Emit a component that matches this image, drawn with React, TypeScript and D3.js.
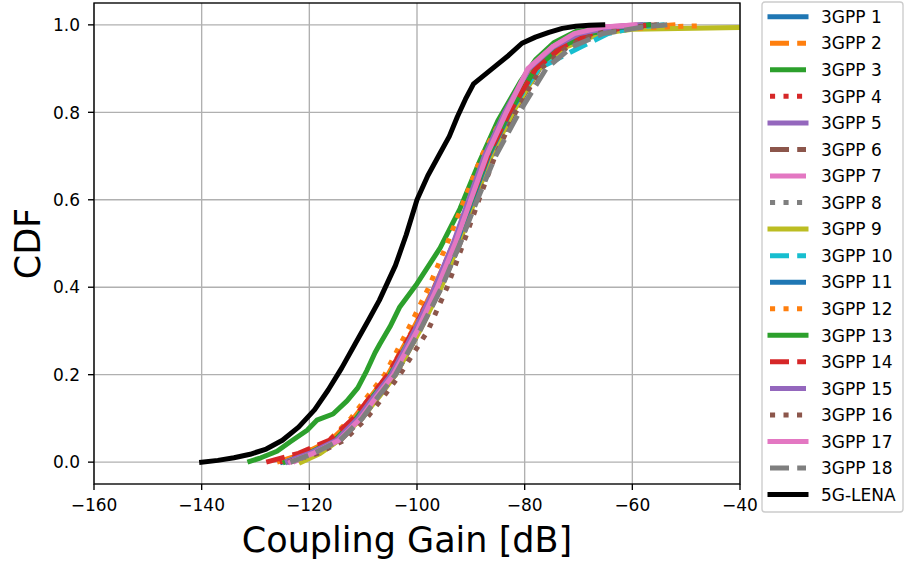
import React from "react";
import * as d3 from "d3";

// Shared CDF levels used by most series
const cdfLevels = [0, 0.02, 0.05, 0.1, 0.15, 0.2, 0.3, 0.4, 0.5, 0.6, 0.7, 0.8, 0.9, 0.95, 0.98, 0.995, 1.0];

const x1 = [-125, -120.5, -115.5, -111.2, -108, -104.8, -100.3, -96.2, -92.8, -89.7, -86.6, -82.6, -77.8, -73.5, -68, -62, -57];
const x2 = [-126, -121, -116, -111.8, -108.6, -105.4, -100.9, -96.8, -93.2, -90, -86.9, -82.8, -77.5, -72.5, -66.5, -58, -52];
const p3 = [0, 0.01, 0.025, 0.046, 0.073, 0.096, 0.11, 0.14, 0.17, 0.21, 0.25, 0.27, 0.31, 0.355, 0.408, 0.45, 0.49, 0.58, 0.69, 0.78, 0.87, 0.92, 0.96, 0.985, 0.995, 1.0];
const x3 = [-131.5, -129, -126, -123.6, -120.4, -118.6, -115.6, -113, -111, -109.3, -107.8, -106.9, -105, -103.2, -100, -97.8, -95.7, -92, -88.3, -85, -80.8, -78, -74.5, -70.5, -64, -58];
const x4 = [-125.5, -120.5, -115.2, -111, -107.8, -104.6, -100, -96, -92.6, -89.6, -86.6, -82.5, -77.5, -72.6, -67, -61, -56];
const x5 = [-124, -119.8, -114.8, -110.8, -107.8, -104.6, -100.3, -96.6, -93.2, -90.3, -87.4, -83.6, -79, -74.8, -70, -64, -58];
const x6 = [-123.5, -119, -114.2, -110.2, -107.2, -104, -99.5, -95.5, -92, -89, -86, -82, -77.2, -72.5, -67, -60, -55];
const x7 = [-123, -119.5, -114.6, -110.6, -107.6, -104.5, -100.2, -96.4, -93, -90.1, -87.2, -83.5, -79.3, -74.7, -70.5, -65, -59];
const x8 = [-124, -119.6, -114.6, -110.6, -107.6, -104.4, -99.8, -95.8, -92.4, -89.4, -86.4, -82.3, -77.6, -72.8, -67.2, -60, -55];
const p9 = [0, 0.02, 0.05, 0.1, 0.15, 0.2, 0.3, 0.4, 0.5, 0.6, 0.7, 0.8, 0.9, 0.95, 0.98, 0.99, 0.994];
const x9 = [-121.5, -118, -114.5, -110.3, -107, -104, -99.5, -95.5, -92.2, -89.2, -86.2, -82.2, -77.3, -72.2, -66, -60, -40];
const x10 = [-124.5, -120, -115.2, -111.3, -108.2, -105, -100.4, -96.4, -93, -90, -87, -82.8, -77.4, -69.5, -64.5, -59, -54];
const x11 = [-124, -119.8, -115, -111, -107.9, -104.7, -100.2, -96.2, -92.7, -89.7, -86.7, -82.7, -78, -73.4, -68, -61.5, -56.5];
const p12 = [0, 0.02, 0.05, 0.1, 0.15, 0.2, 0.3, 0.4, 0.5, 0.6, 0.7, 0.8, 0.9, 0.95, 0.98, 0.99, 0.995, 0.998];
const x12 = [-125, -121, -116.3, -112.3, -109.2, -106, -101.8, -97.8, -94.4, -91.2, -88, -83.6, -78.4, -73.4, -67.5, -62, -55, -47];
const x13 = [-124.5, -120.2, -115.3, -111.3, -108.2, -105, -100.5, -96.5, -93, -89.9, -86.9, -82.9, -78, -73.3, -68, -62, -57];
const x14 = [-128, -122, -116.3, -111.8, -108.6, -105.4, -100.8, -96.7, -93.1, -90, -86.9, -82.8, -77.9, -73, -67.5, -61, -56];
const x15 = [-124.5, -120, -115, -111, -108, -104.8, -100.5, -96.7, -93.3, -90.4, -87.5, -83.7, -79.2, -74.6, -69.8, -63.5, -58];
const x16 = [-124, -118.5, -113.5, -109.4, -106.2, -103.2, -98, -94.4, -91.4, -88.5, -85.5, -81.7, -77, -72, -66.8, -60, -55];
const x17 = [-123.5, -119.3, -114.5, -110.5, -107.5, -104.4, -100, -96.2, -92.9, -90, -87.1, -83.4, -79.4, -74.8, -70.8, -65.5, -59.5];
const x18 = [-123.5, -119.2, -114.3, -110.2, -107.2, -104, -99.5, -95.4, -92, -88.8, -85.4, -81, -76, -71.2, -65.5, -58, -53.5];
const pLena = [0, 0.004, 0.01, 0.018, 0.03, 0.05, 0.08, 0.12, 0.165, 0.215, 0.27, 0.325, 0.37, 0.41, 0.45, 0.52, 0.6, 0.655, 0.7, 0.745, 0.79, 0.83, 0.865, 0.885, 0.905, 0.93, 0.958, 0.972, 0.983, 0.992, 0.997, 0.999, 1.0];
const xLena = [-140, -137, -134, -131, -128, -125, -122, -119, -116.5, -114, -111.5, -109, -107, -105.5, -104, -102, -100, -98, -96, -94, -92.5, -91, -89.5, -87.5, -85.5, -83, -80.5, -78, -75.5, -73, -70.5, -68, -65.5];

const seriesNames = ["3GPP 1", "3GPP 2", "3GPP 3", "3GPP 4", "3GPP 5", "3GPP 6", "3GPP 7", "3GPP 8", "3GPP 9", "3GPP 10", "3GPP 11", "3GPP 12", "3GPP 13", "3GPP 14", "3GPP 15", "3GPP 16", "3GPP 17", "3GPP 18", "5G-LENA"];
const seriesX = [x1, x2, x3, x4, x5, x6, x7, x8, x9, x10, x11, x12, x13, x14, x15, x16, x17, x18, xLena];
const seriesP = [cdfLevels, cdfLevels, p3, cdfLevels, cdfLevels, cdfLevels, cdfLevels, cdfLevels, p9, cdfLevels, cdfLevels, p12, cdfLevels, cdfLevels, cdfLevels, cdfLevels, cdfLevels, cdfLevels, pLena];
const seriesColors = ["#1f77b4", "#ff7f0e", "#2ca02c", "#d62728", "#9467bd", "#8c564b", "#e377c2", "#7f7f7f", "#bcbd22", "#17becf", "#1f77b4", "#ff7f0e", "#2ca02c", "#d62728", "#9467bd", "#8c564b", "#e377c2", "#7f7f7f", "#000000"];
// 0 solid (projecting), 1 dashed, 2 solid (butt), 3 dotted
const seriesStyle = [0, 1, 2, 3, 0, 1, 2, 3, 0, 1, 2, 3, 0, 1, 2, 3, 0, 1, 0];

const xTicks = [-160, -140, -120, -100, -80, -60, -40];
const yTicks = [0.0, 0.2, 0.4, 0.6, 0.8, 1.0];

const W = 904, H = 561;
const AX = { left: 94, right: 740, top: 3, bottom: 484 };
const FONT = "'DejaVu Sans', sans-serif";
const LW = 5;

function dashFor(style: number) {
  if (style === 1) return "19 8.2";
  if (style === 3) return "5.1 8.4";
  return undefined;
}

export default function App() {
  const x = d3.scaleLinear().domain([-160, -40]).range([AX.left, AX.right]);
  const y = d3.scaleLinear().domain([-0.05, 1.05]).range([AX.bottom, AX.top]);
  const line = d3
    .line<[number, number]>()
    .x((d) => x(d[0]))
    .y((d) => y(d[1]));
  const fmtMinus = (v: number) => (v < 0 ? "\u2212" + Math.abs(v) : String(v));

  const legX = 762, legY = 2, legW = 141, legH = 510;
  const rowY0 = 16.7, rowStep = 26.55;

  return (
    <div style={{ position: "absolute", left: 0, top: 0 }}>
      <svg width={W} height={H} style={{ display: "block", background: "#fff" }} fontFamily={FONT}>
        <defs>
          <clipPath id="axclip">
            <rect x={AX.left} y={AX.top} width={AX.right - AX.left} height={AX.bottom - AX.top} />
          </clipPath>
        </defs>
        {/* grid */}
        {xTicks.map((t) => (
          <line key={"gx" + t} x1={x(t)} x2={x(t)} y1={AX.top} y2={AX.bottom} stroke="#b0b0b0" strokeWidth={1.36} />
        ))}
        {yTicks.map((t) => (
          <line key={"gy" + t} x1={AX.left} x2={AX.right} y1={y(t)} y2={y(t)} stroke="#b0b0b0" strokeWidth={1.36} />
        ))}
        {/* series */}
        <g clipPath="url(#axclip)">
          {seriesX.map((xs, i) => {
            const ps = seriesP[i];
            const pts: [number, number][] = xs.map((v, k) => [v, ps[k]]);
            const st = seriesStyle[i];
            return (
              <path
                key={"s" + i}
                d={line(pts) || ""}
                fill="none"
                stroke={seriesColors[i]}
                strokeWidth={LW}
                strokeDasharray={dashFor(st)}
                strokeLinecap={st === 0 ? "square" : "butt"}
                strokeLinejoin="round"
              />
            );
          })}
        </g>
        {/* frame */}
        <rect x={AX.left} y={AX.top} width={AX.right - AX.left} height={AX.bottom - AX.top} fill="none" stroke="#000" strokeWidth={1.36} />
        {/* x ticks */}
        {xTicks.map((t) => (
          <g key={"xt" + t}>
            <line x1={x(t)} x2={x(t)} y1={AX.bottom} y2={AX.bottom + 6} stroke="#000" strokeWidth={1.36} />
            <text x={x(t)} y={511} textAnchor="middle" fontSize={17} fill="#000">
              {fmtMinus(t)}
            </text>
          </g>
        ))}
        {/* y ticks */}
        {yTicks.map((t) => (
          <g key={"yt" + t}>
            <line x1={AX.left - 6} x2={AX.left} y1={y(t)} y2={y(t)} stroke="#000" strokeWidth={1.36} />
            <text x={80} y={y(t) + 6.2} textAnchor="end" fontSize={17} fill="#000">
              {t.toFixed(1)}
            </text>
          </g>
        ))}
        {/* axis labels */}
        <text x={407} y={552} textAnchor="middle" fontSize={35} fill="#000">
          Coupling Gain [dB]
        </text>
        <text transform={`translate(40,${(AX.top + AX.bottom) / 2}) rotate(-90)`} textAnchor="middle" fontSize={35} fill="#000">
          CDF
        </text>
        {/* legend */}
        <rect x={legX} y={legY} width={legW} height={legH} rx={3} ry={3} fill="#fff" fillOpacity={0.8} stroke="#cccccc" strokeWidth={1.36} />
        {seriesNames.map((name, i) => {
          const cy = rowY0 + i * rowStep;
          const st = seriesStyle[i];
          return (
            <g key={"lg" + i}>
              <line
                x1={770}
                x2={806}
                y1={cy}
                y2={cy}
                stroke={seriesColors[i]}
                strokeWidth={LW}
                strokeDasharray={dashFor(st)}
                strokeLinecap={st === 0 ? "square" : "butt"}
              />
              <text x={821} y={cy + 6.2} fontSize={17} fill="#000">
                {name}
              </text>
            </g>
          );
        })}
      </svg>
    </div>
  );
}
